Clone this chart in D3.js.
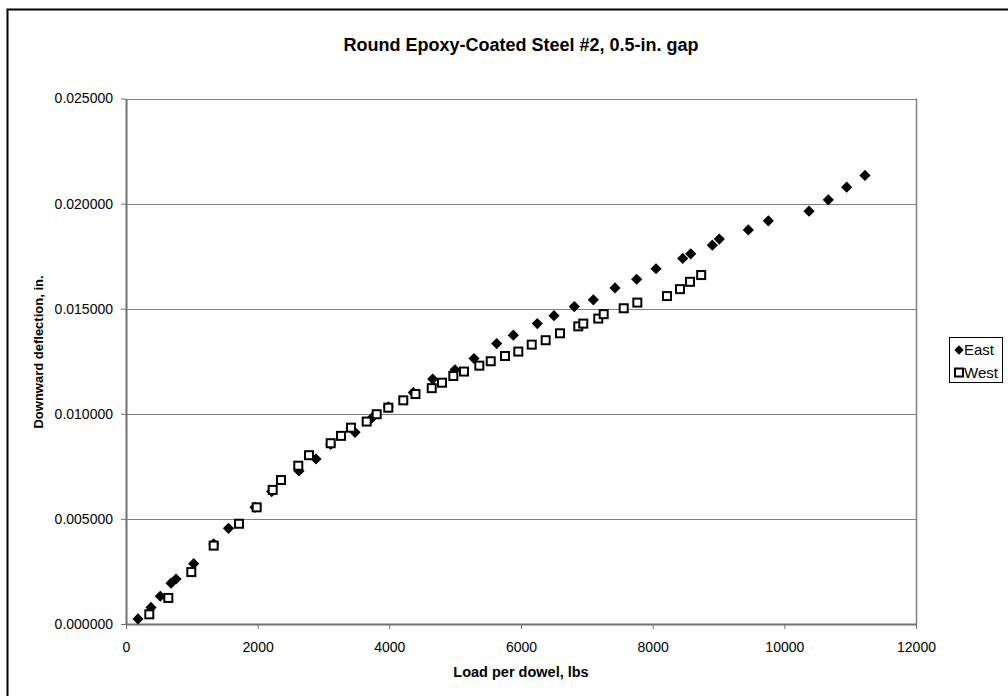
<!DOCTYPE html>
<html>
<head>
<meta charset="utf-8">
<style>
body { margin: 0; background: #fff; }
svg { font-family: "Liberation Sans", Arial, sans-serif; }
</style>
<script src="https://cdn.jsdelivr.net/npm/d3@7"></script>
</head>
<body>
<svg id="chart" width="1008" height="696"></svg>
<script>
// East series (diamonds)
var eastLoad = [182, 380, 521, 684, 760, 1028, 1332, 1557, 1960, 2213, 2628, 2886, 3109, 3479,
  3732, 3984, 4364, 4659, 4997, 5286, 5631, 5883, 6248, 6501, 6810, 7099, 7428, 7757, 8051,
  8456, 8578, 8906, 9012, 9453, 9757, 10375, 10668, 10947, 11225];
var eastDefl = [0.00024, 0.00079, 0.00132, 0.00194, 0.00214, 0.00287, 0.00381, 0.00455, 0.00555,
  0.00630, 0.00728, 0.00785, 0.00854, 0.00912, 0.00979, 0.01033, 0.01101, 0.01165, 0.01209,
  0.01263, 0.01334, 0.01374, 0.01429, 0.01467, 0.01510, 0.01542, 0.01599, 0.01640, 0.01690,
  0.01739, 0.01761, 0.01802, 0.01831, 0.01875, 0.01918, 0.01964, 0.02018, 0.02078, 0.02134];

// West series (open squares)
var westLoad = [354, 643, 992, 1332, 1716, 1985, 2228, 2354, 2617, 2780, 3109, 3266, 3418, 3656,
  3808, 3984, 4212, 4397, 4644, 4800, 4972, 5134, 5367, 5540, 5757, 5959, 6163, 6375, 6592,
  6870, 6946, 7174, 7256, 7560, 7767, 8218, 8415, 8567, 8737];
var westDefl = [0.00046, 0.00124, 0.00247, 0.00373, 0.00477, 0.00555, 0.00638, 0.00685, 0.00753,
  0.00803, 0.00860, 0.00895, 0.00934, 0.00963, 0.00998, 0.01029, 0.01064, 0.01094, 0.01122,
  0.01148, 0.01180, 0.01201, 0.01229, 0.01250, 0.01275, 0.01296, 0.01329, 0.01350, 0.01383,
  0.01416, 0.01429, 0.01453, 0.01474, 0.01502, 0.01529, 0.01560, 0.01593, 0.01628, 0.01660];

var xTicks = [0, 2000, 4000, 6000, 8000, 10000, 12000];
var yTicks = [0, 0.005, 0.010, 0.015, 0.020, 0.025];
var seriesNames = ["East", "West"];

var svg = d3.select("#chart");
var m = {left: 126, top: 98.5, right: 916, bottom: 624};

var x = d3.scaleLinear().domain([0, 12000]).range([m.left, m.right]);
var y = d3.scaleLinear().domain([0, 0.025]).range([m.bottom, m.top]);

// outer chart border
svg.append("rect")
  .attr("x", 7.5).attr("y", 9.5)
  .attr("width", 1010).attr("height", 700)
  .attr("fill", "none").attr("stroke", "#000").attr("stroke-width", 2);

// gridlines
svg.append("g").selectAll("line")
  .data(yTicks.slice(1))
  .enter().append("line")
  .attr("x1", m.left).attr("x2", m.right)
  .attr("y1", function(d){ return Math.round(y(d)) + 0.5; })
  .attr("y2", function(d){ return Math.round(y(d)) + 0.5; })
  .attr("stroke", "#808080").attr("stroke-width", 1);

// plot frame right side
svg.append("line")
  .attr("x1", m.right + 0.5).attr("x2", m.right + 0.5)
  .attr("y1", m.top).attr("y2", m.bottom)
  .attr("stroke", "#808080").attr("stroke-width", 1.5);

var xAxis = svg.append("g")
  .attr("transform", "translate(0," + m.bottom + ")")
  .call(d3.axisBottom(x).tickValues(xTicks).tickSize(5).tickSizeOuter(0)
    .tickFormat(d3.format("d")));
var yAxis = svg.append("g")
  .attr("transform", "translate(" + m.left + ",0)")
  .call(d3.axisLeft(y).tickValues(yTicks).tickSize(5).tickSizeOuter(0)
    .tickFormat(d3.format(".6f")));

[xAxis, yAxis].forEach(function(a){
  a.select(".domain").attr("stroke", "#707070").attr("stroke-width", 2);
  a.selectAll(".tick line").attr("stroke", "#707070");
  a.selectAll("text").attr("font-size", 14).attr("fill", "#000")
    .attr("font-family", "Liberation Sans, Arial, sans-serif");
});
xAxis.selectAll("text").attr("y", 0).attr("dy", 28);
yAxis.selectAll("text").attr("x", -13);

// title and axis labels
svg.append("text")
  .attr("x", 521).attr("y", 51).attr("text-anchor", "middle")
  .attr("font-size", 18).attr("font-weight", "bold")
  .text("Round Epoxy-Coated Steel #2, 0.5-in. gap");
svg.append("text")
  .attr("x", 521).attr("y", 677).attr("text-anchor", "middle")
  .attr("font-size", 14.5).attr("font-weight", "bold")
  .text("Load per dowel, lbs");
svg.append("text")
  .attr("transform", "translate(43,352) rotate(-90)")
  .attr("text-anchor", "middle")
  .attr("font-size", 13).attr("font-weight", "bold")
  .text("Downward deflection, in.");

var diamond = d3.symbol().type(d3.symbolDiamond2).size(80);

var east = eastLoad.map(function(v, i){ return [v, eastDefl[i]]; });
var west = westLoad.map(function(v, i){ return [v, westDefl[i]]; });

svg.append("g").selectAll("path")
  .data(east)
  .enter().append("path")
  .attr("d", diamond)
  .attr("transform", function(d){ return "translate(" + x(d[0]) + "," + y(d[1]) + ")"; })
  .attr("fill", "#000");

svg.append("g").selectAll("rect")
  .data(west)
  .enter().append("rect")
  .attr("x", function(d){ return x(d[0]) - 4; })
  .attr("y", function(d){ return y(d[1]) - 4; })
  .attr("width", 8).attr("height", 8)
  .attr("fill", "#fff").attr("stroke", "#000").attr("stroke-width", 2);

// legend
var lg = svg.append("g");
lg.append("rect")
  .attr("x", 949.5).attr("y", 337.5).attr("width", 53).attr("height", 45)
  .attr("fill", "#fff").attr("stroke", "#000").attr("stroke-width", 1);
seriesNames.forEach(function(name, i){
  var cy = 350 + i * 22.5;
  if (i === 0) {
    lg.append("path").attr("d", d3.symbol().type(d3.symbolDiamond2).size(55))
      .attr("transform", "translate(959," + cy + ")").attr("fill", "#000");
  } else {
    lg.append("rect").attr("x", 955).attr("y", cy - 4).attr("width", 8).attr("height", 8)
      .attr("fill", "#fff").attr("stroke", "#000").attr("stroke-width", 2);
  }
  lg.append("text").attr("x", 964).attr("y", cy + 5)
    .attr("font-size", 15).text(name);
});
</script>
</body>
</html>
